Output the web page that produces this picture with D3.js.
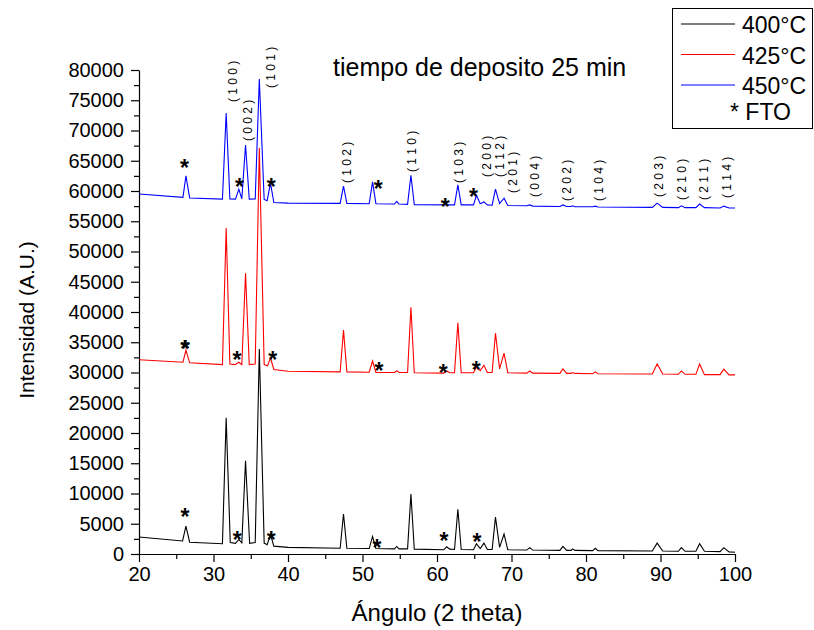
<!doctype html>
<html>
<head>
  <meta charset="utf-8">
  <title>DRX - tiempo de deposito 25 min</title>
  <script src="https://d3js.org/d3.v7.min.js"></script>
  <style>
    body { margin: 0; background: #fff; }
    svg text { font-family: "Liberation Sans", Arial, sans-serif; fill: #000; }
    .axis path, .axis line { stroke: #000; stroke-width: 1.2; }
    .axis text { font-size: 20px; }
    .curve { fill: none; stroke-width: 1.1; }
    .hkl { font-size: 12px; }
    .fto { font-size: 23px; font-weight: bold; }
  </style>
</head>
<body>
<div id="chart"></div>
<script>
  // patrones DRX: [angulo 2theta, intensidad]
  var serie400 = [[20, 2800], [25.85, 2150], [26.3, 4600], [26.8, 1950], [31.2, 1700], [31.7, 22500], [32.25, 1900],
    [32.95, 1750], [33.4, 2400], [33.8, 1850], [34.3, 15400], [34.85, 1750], [35.6, 1900], [36.15, 33900], [36.8, 1800],
    [37.2, 1550], [37.65, 3200], [38.1, 1300], [40, 1100], [47.0, 950], [47.45, 6600], [47.9, 950], [50.9, 900],
    [51.35, 2900], [51.8, 900], [54.3, 850], [54.6, 1250], [54.9, 850], [56.05, 850], [56.5, 9900], [56.95, 800],
    [60.9, 700], [61.3, 1200], [61.7, 800], [62.35, 750], [62.8, 7400], [63.25, 750], [64.9, 700], [65.3, 1700],
    [65.8, 900], [66.3, 1800], [66.75, 750], [67.4, 750], [67.85, 6100], [68.4, 1100], [69.0, 3300], [69.5, 700],
    [72.05, 650], [72.45, 1050], [72.85, 650], [76.5, 600], [76.9, 1250], [77.4, 600], [78.0, 600], [78.2, 850],
    [78.5, 600], [80.9, 550], [81.25, 950], [81.6, 550], [88.9, 500], [89.55, 1800], [90.3, 500], [92.4, 450],
    [92.8, 1050], [93.3, 450], [94.75, 450], [95.25, 1700], [95.9, 450], [98.0, 400], [98.5, 1050], [99.2, 350], [100, 300]];

  var serie425 = [[20, 32100], [25.9, 31700], [26.3, 33700], [26.8, 31600], [31.2, 31300], [31.7, 53900], [32.2, 31400],
    [32.9, 31300], [33.4, 31700], [33.8, 31300], [34.3, 46400], [34.8, 31300], [35.6, 31400], [36.15, 67100], [36.8, 31300],
    [37.25, 31100], [37.65, 32400], [38.1, 30500], [40, 30200], [47.0, 30100], [47.45, 37000], [47.9, 30100], [50.9, 30050],
    [51.35, 31900], [51.8, 30000], [54.3, 30000], [54.6, 30300], [54.9, 30000], [56.05, 30000], [56.5, 40800], [56.95, 29950],
    [60.9, 29900], [61.3, 30250], [61.7, 29950], [62.35, 29950], [62.8, 38200], [63.25, 29950], [64.9, 29950], [65.3, 30900],
    [65.8, 30300], [66.3, 31200], [66.75, 30000], [67.4, 30000], [67.85, 36500], [68.4, 30600], [69.0, 33200], [69.5, 29950],
    [72.05, 29900], [72.45, 30250], [72.85, 29900], [76.5, 29850], [76.9, 30600], [77.4, 29850], [78.0, 29850], [78.2, 30000],
    [78.5, 29850], [80.9, 29800], [81.25, 30100], [81.6, 29800], [88.9, 29750], [89.55, 31400], [90.3, 29750], [92.4, 29700],
    [92.8, 30250], [93.3, 29700], [94.75, 29700], [95.25, 31400], [95.9, 29650], [98.0, 29650], [98.5, 30550], [99.2, 29600], [100, 29600]];

  var serie450 = [[20, 59500], [25.9, 58950], [26.3, 62500], [26.8, 58850], [31.2, 58650], [31.7, 72900], [32.2, 58700],
    [32.95, 58650], [33.4, 60300], [33.8, 58700], [34.3, 67600], [34.8, 58650], [35.6, 58700], [36.15, 78500], [36.8, 58600],
    [37.2, 58400], [37.65, 61300], [38.1, 58100], [40, 58000], [47.0, 57950], [47.45, 60800], [47.9, 57950], [50.9, 57900],
    [51.35, 61500], [51.8, 57900], [54.3, 57850], [54.6, 58300], [54.9, 57850], [56.05, 57800], [56.5, 62600], [56.95, 57750],
    [62.35, 57700], [62.8, 61000], [63.25, 57700], [64.9, 57700], [65.3, 59300], [65.8, 57900], [66.3, 58200], [66.75, 57700],
    [67.4, 57650], [67.85, 60300], [68.4, 57900], [69.0, 58800], [69.5, 57600], [72.05, 57550], [72.45, 57700], [72.85, 57500],
    [76.5, 57450], [76.9, 57700], [77.4, 57450], [78.0, 57450], [78.2, 57550], [78.5, 57400], [80.9, 57400], [81.25, 57500],
    [81.6, 57350], [88.9, 57300], [89.55, 58000], [90.3, 57300], [92.4, 57250], [92.8, 57550], [93.3, 57250], [94.75, 57250],
    [95.25, 57850], [95.9, 57250], [98.0, 57200], [98.5, 57500], [99.2, 57200], [100, 57200]];

  // posiciones de los asteriscos (FTO)
  var fto400 = [[26.17, 6940], [33.2, 3140], [37.75, 3140], [51.95, 1820], [60.95, 2975], [65.35, 2810]];
  var fto425 = [[26.15, 34710], [26.25, 34710], [33.15, 32890], [37.95, 32890], [52.2, 31070], [60.85, 30740], [65.25, 31240]];
  var fto450 = [[26.1, 64630], [33.5, 61490], [37.75, 61490], [52.1, 61160], [61.1, 58180], [64.9, 59830]];

  // planos (hkl)
  var hklText = ["( 1 0 0 )", "( 0 0 2 )", "( 1 0 1 )", "( 1 0 2 )", "( 1 1 0 )", "( 1 0 3 )", "( 2 0 0 )", "( 1 1 2 )",
    "( 2 0 1 )", "( 0 0 4 )", "( 2 0 2 )", "( 1 0 4 )", "( 2 0 3 )", "( 2 1 0 )", "( 2 1 1 )", "( 1 1 4 )"];
  var hklAngle = [32.6, 34.63, 37.72, 47.92, 56.64, 62.95, 66.71, 68.46, 70.2, 73.15, 77.45, 81.74, 89.8, 92.89, 95.84, 98.93];
  var hklLevel = [74700, 68260, 77020, 61320, 63140, 61320, 62310, 62310, 59670, 59010, 58350, 58350, 59010, 58510, 58510, 58840];

  var seriesNames = ["400°C", "425°C", "450°C"];
  var xTicks = [20, 30, 40, 50, 60, 70, 80, 90, 100];
  var xMinor = [25, 35, 45, 55, 65, 75, 85, 95];
  var yTicks = [0, 5000, 10000, 15000, 20000, 25000, 30000, 35000, 40000, 45000, 50000, 55000, 60000, 65000, 70000, 75000, 80000];
  var yMinor = [2500, 7500, 12500, 17500, 22500, 27500, 32500, 37500, 42500, 47500, 52500, 57500, 62500, 67500, 72500, 77500];

  var colors = ["#000000", "#ff0000", "#0000ff"];

  var width = 814, height = 630;
  var svg = d3.select("#chart").append("svg")
    .attr("width", width)
    .attr("height", height);

  var x = d3.scaleLinear().domain([20, 100]).range([139, 735]);
  var y = d3.scaleLinear().domain([0, 80000]).range([554, 70]);

  // ejes
  svg.append("g")
    .attr("class", "axis")
    .attr("transform", "translate(0," + y(0) + ")")
    .call(d3.axisBottom(x).tickValues(xMinor).tickSize(5).tickFormat(""))
    .select(".domain").remove();
  svg.append("g")
    .attr("class", "axis")
    .attr("transform", "translate(0," + y(0) + ")")
    .call(d3.axisBottom(x).tickValues(xTicks).tickSizeInner(8).tickSizeOuter(0).tickPadding(5).tickFormat(d3.format("d")));

  svg.append("g")
    .attr("class", "axis")
    .attr("transform", "translate(" + x(20) + ",0)")
    .call(d3.axisLeft(y).tickValues(yMinor).tickSize(5).tickFormat(""))
    .select(".domain").remove();
  svg.append("g")
    .attr("class", "axis")
    .attr("transform", "translate(" + x(20) + ",0)")
    .call(d3.axisLeft(y).tickValues(yTicks).tickSizeInner(8).tickSizeOuter(0).tickPadding(7).tickFormat(d3.format("d")));

  // curvas
  var line = d3.line()
    .x(function(d) { return x(d[0]); })
    .y(function(d) { return y(d[1]); });

  var allSeries = [serie400, serie425, serie450];
  [2, 1, 0].forEach(function(i) {
    svg.append("path")
      .datum(allSeries[i])
      .attr("class", "curve")
      .attr("stroke", colors[i])
      .attr("d", line);
  });

  // asteriscos FTO
  var allFto = fto400.concat(fto425, fto450);
  svg.selectAll(".fto")
    .data(allFto)
    .enter()
    .append("text")
    .attr("class", "fto")
    .attr("text-anchor", "middle")
    .attr("x", function(d) { return x(d[0]); })
    .attr("y", function(d) { return y(d[1]) + 13; })
    .text("*");

  // etiquetas hkl
  svg.selectAll(".hkl")
    .data(hklText)
    .enter()
    .append("text")
    .attr("class", "hkl")
    .attr("transform", function(d, i) {
      return "translate(" + (x(hklAngle[i]) + 4) + "," + y(hklLevel[i]) + ")rotate(-90)";
    })
    .text(function(d) { return d; });

  // titulos
  svg.append("text")
    .attr("x", 333)
    .attr("y", 76)
    .style("font-size", "25px")
    .text("tiempo de deposito 25 min");

  svg.append("text")
    .attr("x", (x(20) + x(100)) / 2)
    .attr("y", 621)
    .attr("text-anchor", "middle")
    .style("font-size", "24px")
    .text("Ángulo (2 theta)");

  svg.append("text")
    .attr("transform", "translate(34,320)rotate(-90)")
    .attr("text-anchor", "middle")
    .style("font-size", "21px")
    .text("Intensidad (A.U.)");

  // leyenda
  var legend = svg.append("g");
  legend.append("rect")
    .attr("x", 672.5)
    .attr("y", 8.5)
    .attr("width", 140)
    .attr("height", 120)
    .attr("fill", "#fff")
    .attr("stroke", "#000");

  seriesNames.forEach(function(name, i) {
    var ly = 24 + i * 30.5;
    legend.append("line")
      .attr("x1", 681).attr("x2", 735)
      .attr("y1", ly).attr("y2", ly)
      .attr("stroke", colors[i])
      .attr("stroke-width", 1.1);
    legend.append("text")
      .attr("x", 742)
      .attr("y", ly + 9)
      .style("font-size", "23px")
      .text(name);
  });
  legend.append("text")
    .attr("x", 730)
    .attr("y", 120)
    .style("font-size", "23px")
    .text("* FTO");
</script>
</body>
</html>
